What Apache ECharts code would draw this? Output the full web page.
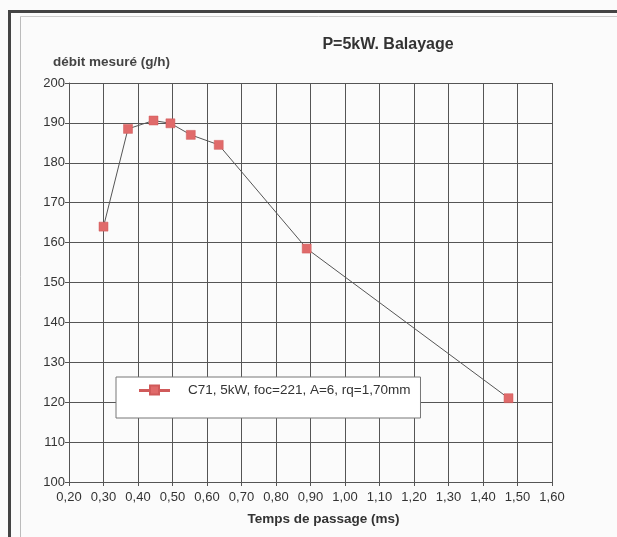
<!DOCTYPE html>
<html>
<head>
<meta charset="utf-8">
<script src="https://cdn.jsdelivr.net/npm/echarts@6/dist/echarts.min.js"></script>
<style>
html,body{margin:0;padding:0;background:#fbfbfb;}
#c{width:617px;height:537px;}
</style>
</head>
<body>
<div id="c"></div>
<script>
const chartTitle = 'P=5kW. Balayage';
const yTitle = 'débit mesuré (g/h)';
const xTitle = 'Temps de passage (ms)';
const seriesName = 'C71, 5kW, foc=221, A=6, rq=1,70mm';
const xTickLabels = ['0,20','0,30','0,40','0,50','0,60','0,70','0,80','0,90','1,00','1,10','1,20','1,30','1,40','1,50','1,60'];
const yTickLabels = ['100','110','120','130','140','150','160','170','180','190','200'];
const tempsPassage = [0.30, 0.371, 0.445, 0.494, 0.553, 0.634, 0.889, 1.474];
const debitMesure = [164.0, 188.5, 190.6, 189.9, 187.0, 184.5, 158.5, 121.0];

const font = 'Liberation Sans, Arial, sans-serif';
const chart = echarts.init(document.getElementById('c'), null, {renderer:'canvas'});
chart.setOption({
  backgroundColor: '#fbfbfb',
  animation: false,
  title: [
    {text: chartTitle, left: 383, top: 32, textAlign: 'center',
     textStyle: {fontFamily: font, fontSize: 16, fontWeight: 'bold', color: '#333'}},
    {text: yTitle, left: 48, top: 50,
     textStyle: {fontFamily: font, fontSize: 13.5, fontWeight: 'bold', color: '#444'}}
  ],
  graphic: [
    {type: 'line', shape: {x1: 9.5, y1: 11.5, x2: 617, y2: 11.5}, style: {stroke: '#444', lineWidth: 3}},
    {type: 'line', shape: {x1: 9.5, y1: 10, x2: 9.5, y2: 537}, style: {stroke: '#444', lineWidth: 3}},
    {type: 'line', shape: {x1: 20.5, y1: 16.5, x2: 617, y2: 16.5}, style: {stroke: '#ccc', lineWidth: 1}},
    {type: 'line', shape: {x1: 20.5, y1: 16.5, x2: 20.5, y2: 537}, style: {stroke: '#bbb', lineWidth: 1}}
  ],
  grid: {left: 69, right: 65, top: 83, bottom: 55},
  legend: {
    left: 116, top: 377,
    backgroundColor: '#fff', borderColor: '#777', borderWidth: 1,
    padding: [6, 10, 21, 23],
    itemWidth: 29, itemHeight: 9,
    textStyle: {fontFamily: font, fontSize: 13.5, color: '#333', padding: [0,0,0,14]},
    data: [{name: seriesName, icon: 'path://M0,4.5L10,4.5L10,0L19,0L19,4.5L29,4.5L29,5.5L19,5.5L19,9L10,9L10,5.5L0,5.5Z'}]
  },
  xAxis: {
    type: 'value', min: 0.2, max: 1.6, interval: 0.1,
    name: xTitle, nameLocation: 'middle', nameGap: 30,
    nameTextStyle: {fontFamily: font, fontSize: 13.5, fontWeight: 'bold', color: '#333', padding: [0,0,0,26]},
    axisLine: {show: true, lineStyle: {color: '#555', width: 1}},
    axisTick: {show: true, inside: false, length: 4, lineStyle: {color: '#555'}},
    splitLine: {show: true, lineStyle: {color: '#555', width: 1}},
    axisLabel: {fontFamily: font, fontSize: 13, color: '#333', margin: 9,
      formatter: (v) => xTickLabels[Math.round((v - 0.2) * 10)]}
  },
  yAxis: {
    type: 'value', min: 100, max: 200, interval: 10,
    axisLine: {show: true, lineStyle: {color: '#555', width: 1}},
    axisTick: {show: true, inside: false, length: 4, lineStyle: {color: '#555'}},
    splitLine: {show: true, lineStyle: {color: '#555', width: 1}},
    axisLabel: {fontFamily: font, fontSize: 13, color: '#333', margin: 4,
      formatter: (v) => yTickLabels[Math.round((v - 100) / 10)]}
  },
  series: [{
    name: seriesName, type: 'line',
    data: tempsPassage.map((x, i) => [x, debitMesure[i]]),
    symbol: 'rect', symbolSize: 9,
    itemStyle: {color: '#e06a6a', borderColor: '#d05a5a', borderWidth: 0.5},
    lineStyle: {color: '#555', width: 1}
  }]
});
</script>
</body>
</html>
